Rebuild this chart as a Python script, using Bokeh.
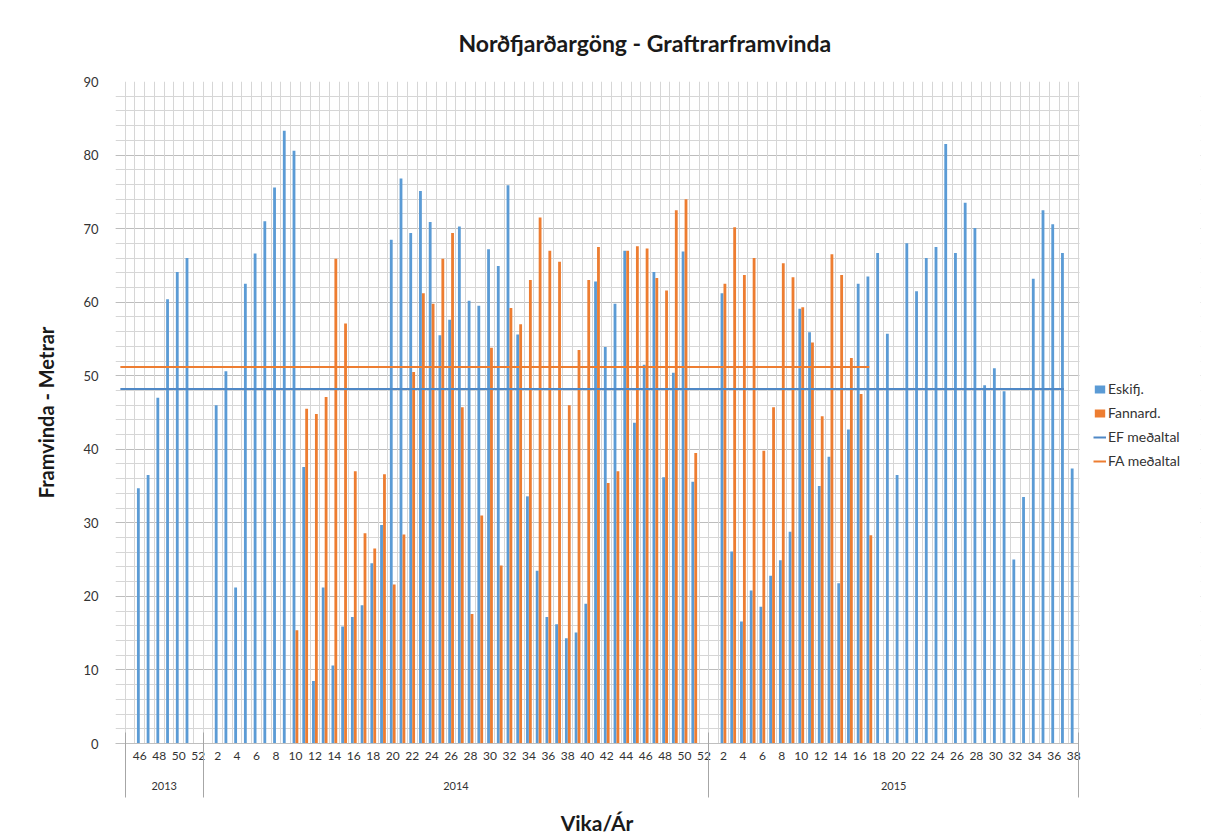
import math
from bokeh.plotting import figure
from bokeh.models import (Range1d, LinearAxis, FixedTicker, SingleIntervalTicker, Grid,
                          Legend, LegendItem, ColumnDataSource, Title, BoxAnnotation)
from bokeh.embed import file_html
from bokeh.resources import INLINE

NaN = float("nan")

# ---- categories: first blank slot, then weeks 2013-45 .. 2015-38 ----
cat_year = [""] + ["2013"] * 8 + ["2014"] * 52 + ["2015"] * 38
cat_week = [None] + list(range(45, 53)) + list(range(1, 53)) + list(range(1, 39))
year_groups = ["2013", "2014", "2015"]

# ---- series values (metres per week) ----
eskifj_2013 = [NaN, 34.7, 36.5, 47.0, 60.4, 64.1, 66.0, NaN]
eskifj_2014 = [NaN, 46.0, 50.6, 21.2, 62.5, 66.6, 71.0, 75.6, 83.3, 80.6,
               37.6, 8.5, 21.2, 10.6, 15.9, 17.2, 18.8, 24.5, 29.7, 68.5,
               76.8, 69.4, 75.1, 70.9, 55.5, 57.6, 70.3, 60.2, 59.5, 67.2,
               64.9, 75.9, 55.6, 33.6, 23.5, 17.2, 16.2, 14.3, 15.1, 19.0,
               62.8, 53.9, 59.8, 67.0, 43.6, 51.5, 64.1, 36.2, 50.4, 66.9,
               35.6, NaN]
eskifj_2015 = [NaN, 61.2, 26.1, 16.6, 20.8, 18.6, 22.8, 24.9, 28.8, 59.1,
               55.9, 35.0, 39.0, 21.8, 42.7, 62.5, 63.5, 66.7, 55.7, 36.5,
               68.0, 61.5, 66.0, 67.5, 81.5, 66.7, 73.5, 70.1, 48.7, 51.0,
               47.9, 25.0, 33.5, 63.2, 72.5, 70.6, 66.7, 37.4]

fannard_2013 = [NaN] * 8
fannard_2014 = [NaN, NaN, NaN, NaN, NaN, NaN, NaN, NaN, NaN, 15.4,
                45.5, 44.8, 47.1, 65.9, 57.1, 37.0, 28.6, 26.5, 36.6, 21.6,
                28.4, 50.5, 61.2, 59.8, 65.9, 69.4, 45.7, 17.6, 31.0, 53.8,
                24.2, 59.2, 57.0, 63.0, 71.5, 67.0, 65.5, 46.0, 53.5, 63.0,
                67.5, 35.4, 37.0, 67.0, 67.6, 67.3, 63.3, 61.6, 72.5, 74.0,
                39.5, NaN]
fannard_2015 = [NaN, 62.5, 70.2, 63.7, 66.0, 39.8, 45.7, 65.3, 63.4, 59.3,
                54.5, 44.5, 66.5, 63.7, 52.4, 47.5, 28.3, NaN, NaN, NaN,
                NaN, NaN, NaN, NaN, NaN, NaN, NaN, NaN, NaN, NaN,
                NaN, NaN, NaN, NaN, NaN, NaN, NaN, NaN]

eskifj = [NaN] + eskifj_2013 + eskifj_2014 + eskifj_2015
fannard = [NaN] + fannard_2013 + fannard_2014 + fannard_2015

# averages (horizontal series) and the last category each one reaches
ef_mean = 48.2
ef_mean_last = ("2015", 37)
fa_mean = 51.2
fa_mean_last = ("2015", 17)

x_title = "Vika/Ár"
y_title = "Framvinda - Metrar"
chart_title = "Norðfjarðargöng - Graftrarframvinda"

BLUE = "#5B9BD5"
ORANGE = "#ED7D31"
FONT = "Lato"
TXT = "#333333"
DARK = "#1a1a1a"
GRID = "#d6d6d6"

n = len(cat_year)
centers = [i + 0.5 for i in range(n)]


def cat_index(year, week):
    for i in range(n):
        if cat_year[i] == year and cat_week[i] == week:
            return i
    return None


# the drawing frame reaches to the right edge so the legend can sit in it;
# the category area itself occupies 963 px of the 1085 px frame
W, H = 1205, 838
left, right_border, top, bottom = 115, 5, 81, 95
frame_px = W - left - right_border
plot_px = 963
x_end = n * frame_px / plot_px

p = figure(width=W, height=H, x_range=Range1d(0, x_end), y_range=Range1d(0, 90),
           x_axis_type=None, y_axis_type=None, output_backend="svg",
           toolbar_location=None, min_border_left=left, min_border_right=right_border,
           min_border_top=top, min_border_bottom=bottom)
p.outline_line_color = None
p.background_fill_color = "white"
p.border_fill_color = "white"

# title
p.title = Title(text=chart_title, align="left", offset=343,
                text_font=FONT, text_font_size="23px", text_font_style="bold",
                text_color=DARK, standoff=50)

# y axis
y_ticker = SingleIntervalTicker(interval=10, num_minor_ticks=5)
yax = LinearAxis(ticker=y_ticker, axis_line_color=None, major_tick_line_color=None,
                 minor_tick_line_color=None, major_label_text_font=FONT,
                 major_label_text_font_size="13px", major_label_text_color=TXT,
                 major_label_standoff=11, axis_label=y_title,
                 axis_label_text_font=FONT, axis_label_text_font_size="20px",
                 axis_label_text_font_style="bold", axis_label_text_color=DARK,
                 axis_label_standoff=22)
p.add_layout(yax, "left")

# grids
p.add_layout(Grid(dimension=1, ticker=y_ticker, grid_line_color="#bdbdbd",
                  minor_grid_line_color=GRID))
p.add_layout(Grid(dimension=0, ticker=FixedTicker(ticks=list(range(0, n + 1))),
                  grid_line_color=GRID))
# blank out the strip right of the category area (legend space)
p.add_layout(BoxAnnotation(left=n + 0.1, fill_color="white", fill_alpha=1.0,
                           line_color=None))

# week labels axis (every 2nd category)
week_ticks = [centers[i] for i in range(n) if cat_week[i] is not None and cat_week[i] % 2 == 0]
week_over = {centers[i]: str(cat_week[i]) for i in range(n)
             if cat_week[i] is not None and cat_week[i] % 2 == 0}
xa = LinearAxis(ticker=FixedTicker(ticks=week_ticks), major_label_overrides=week_over,
                bounds=(0, n), major_tick_in=0, major_tick_out=0,
                axis_line_color="#bfbfbf", major_label_standoff=8,
                major_label_text_font=FONT, major_label_text_font_size="12px",
                major_label_text_color=TXT)
p.add_layout(xa, "below")

# year labels axis
year_centers = []
year_over = {}
bounds = []
for y in year_groups:
    idx = [i for i in range(n) if cat_year[i] == y]
    c = (idx[0] + idx[-1] + 1) / 2
    year_centers.append(c)
    year_over[c] = y
    bounds.append(idx[0])
bounds.append(n)
xb = LinearAxis(ticker=FixedTicker(ticks=year_centers), major_label_overrides=year_over,
                bounds=(0, n), major_tick_in=0, major_tick_out=0, axis_line_color=None,
                major_label_standoff=19, major_label_text_font=FONT,
                major_label_text_font_size="11px", major_label_text_color=TXT)
p.add_layout(xb, "below")

# bottom axis: year-group separators (drawn upward as ticks) + axis title
mid = n / 2
xd = LinearAxis(ticker=FixedTicker(ticks=[mid], minor_ticks=bounds), bounds=(0, n),
                major_label_overrides={mid: x_title},
                axis_line_color=None, major_tick_in=0, major_tick_out=0,
                minor_tick_in=60, minor_tick_out=5, minor_tick_line_color="#a6a6a6",
                major_label_standoff=12, major_label_text_font=FONT,
                major_label_text_font_size="21px", major_label_text_font_style="bold",
                major_label_text_color=DARK)
p.add_layout(xd, "below")

# bars
src = ColumnDataSource(dict(xb=[c - 0.15 for c in centers], xo=[c + 0.15 for c in centers],
                            esk=eskifj, fan=fannard))
r_e = p.vbar(x="xb", top="esk", width=0.29, bottom=0, source=src, fill_color=BLUE,
             line_color=None)
r_f = p.vbar(x="xo", top="fan", width=0.29, bottom=0, source=src, fill_color=ORANGE,
             line_color=None)

# mean lines
ef_end = cat_index(*ef_mean_last)
fa_end = cat_index(*fa_mean_last)
r_em = p.line(x=[centers[0], centers[ef_end]], y=[ef_mean, ef_mean], line_color="#4F88C6",
              line_width=2)
r_fm = p.line(x=[centers[0], centers[fa_end]], y=[fa_mean, fa_mean], line_color=ORANGE,
              line_width=2)

legend = Legend(items=[LegendItem(label="Eskifj.", renderers=[r_e]),
                       LegendItem(label="Fannard.", renderers=[r_f]),
                       LegendItem(label="EF meðaltal", renderers=[r_em]),
                       LegendItem(label="FA meðaltal", renderers=[r_fm])],
                location=(978, 274), border_line_color=None, background_fill_alpha=0,
                label_text_font=FONT, label_text_font_size="14px", label_text_color=TXT,
                glyph_width=13, glyph_height=10, spacing=7, padding=0, margin=0,
                label_standoff=2, label_height=17)
p.add_layout(legend)

open("out.html", "w").write(file_html(p, INLINE))
